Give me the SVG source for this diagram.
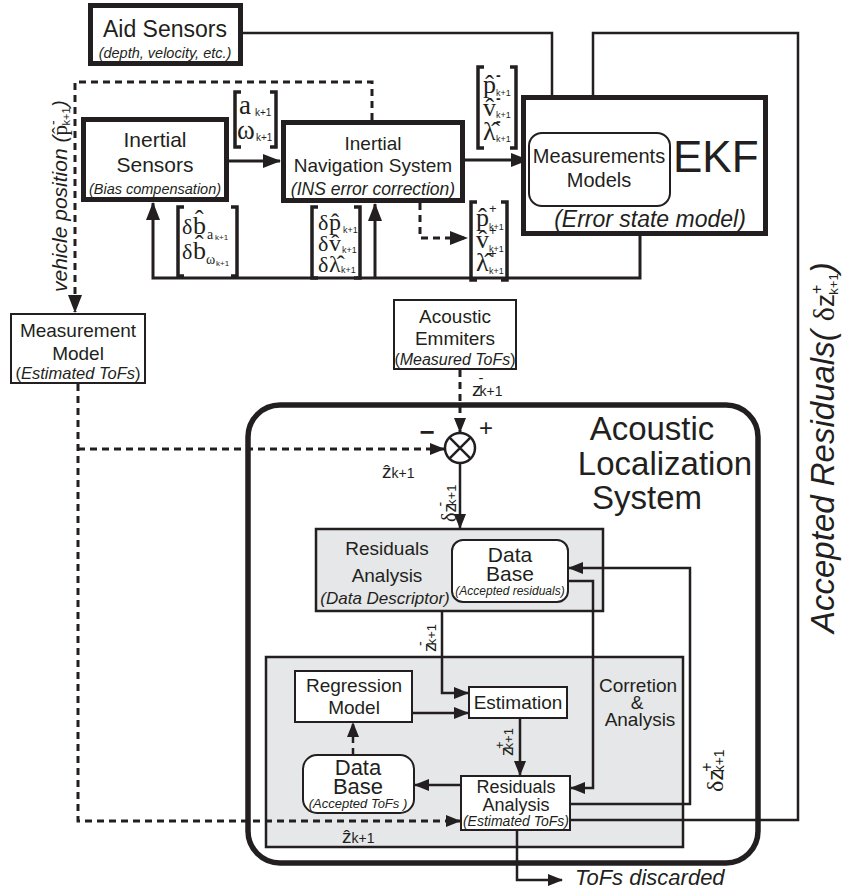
<svg xmlns="http://www.w3.org/2000/svg" width="843" height="895" viewBox="0 0 843 895">
<style>
text{fill:#231f20}
.s{font-family:"Liberation Sans",Arial,sans-serif}
.m{font-family:"Liberation Serif","Times New Roman",serif}
.i{font-style:italic}
.c{text-anchor:middle}
.thick{fill:#fff;stroke:#231f20;stroke-width:5}
.thin{fill:#fff;stroke:#231f20;stroke-width:2}
.gray{fill:#e6e7e8;stroke:#231f20;stroke-width:2.5}
.con{fill:none;stroke:#231f20;stroke-width:2.5}
.con3{fill:none;stroke:#231f20;stroke-width:3}
.dash{stroke-dasharray:7 5}
.br{fill:none;stroke:#231f20;stroke-width:3.5}
</style>
<defs>
<marker id="ah" markerUnits="userSpaceOnUse" markerWidth="18" markerHeight="14" refX="17" refY="7" orient="auto"><path d="M0,0 L18,7 L0,14 z" fill="#231f20"/></marker>
<marker id="as" markerUnits="userSpaceOnUse" markerWidth="15" markerHeight="12" refX="14" refY="6" orient="auto"><path d="M0,0 L15,6 L0,12 z" fill="#231f20"/></marker>
</defs>

<g id="acoustic-localization-system">
<rect x="248" y="405" width="510" height="458" rx="32" fill="none" stroke="#231f20" stroke-width="5.5"/>
<text class="s c" x="652" y="440" font-size="33">Acoustic</text>
<text class="s c" x="665" y="475" font-size="33">Localization</text>
<text class="s c" x="647" y="509" font-size="33">System</text>
</g>

<g id="residuals-analysis-descriptor">
<rect class="gray" x="316" y="529" width="287" height="82"/>
<text class="s c" x="387" y="555" font-size="19">Residuals</text>
<text class="s c" x="387" y="582" font-size="19">Analysis</text>
<text class="s c i" x="385" y="604" font-size="17">(Data Descriptor)</text>
</g>

<g id="correction-analysis">
<rect class="gray" x="266" y="657" width="417" height="190"/>
<text class="s c" x="638" y="692" font-size="19">Corretion</text>
<text class="s c" x="637" y="709" font-size="19">&amp;</text>
<text class="s c" x="640" y="726" font-size="19">Analysis</text>
</g>

<g id="connectors">
<path class="con" d="M243,33 H552 V131" stroke-width="2" marker-end="url(#ah)"/>
<path class="con" d="M570,820 H798 V33 H593 V131" stroke-width="2" marker-end="url(#ah)"/>
<path class="con3" d="M229,161 H280" marker-end="url(#ah)"/>
<path class="con3" d="M465,160 H528" marker-end="url(#ah)"/>
<path class="con3 dash" d="M372,120 V82 H75 V312" marker-end="url(#ah)"/>
<path class="con3 dash" d="M420,203 V238 H467" marker-end="url(#ah)"/>
<path class="con3" d="M640,236 V278 H153 V203" marker-end="url(#ah)"/>
<path class="con3" d="M375,278 V204" marker-end="url(#ah)"/>
<path class="con3 dash" d="M78,384 V821 H460" marker-end="url(#as)"/>
<path class="con3 dash" d="M78,449 H444" marker-end="url(#as)"/>
<path class="con3 dash" d="M460,370 V432" marker-end="url(#as)"/>
<path class="con" d="M460,463 V528" marker-end="url(#as)"/>
<path class="con" d="M442,611 V693 H468" marker-end="url(#as)"/>
<path class="con" d="M568,581 H593 V788 H571" marker-end="url(#as)"/>
<path class="con" d="M570,804 H690 V568 H569" marker-end="url(#as)"/>
<path class="con" d="M412,713 H468" marker-end="url(#as)"/>
<path class="con" d="M520,718 V775" marker-end="url(#as)"/>
<path class="con" d="M461,785 H415" marker-end="url(#as)"/>
<path class="con dash" d="M353,755 V723" marker-end="url(#as)"/>
<path class="con" d="M517,830 V880 H562" marker-end="url(#as)"/>
</g>

<g id="aid-sensors">
<rect class="thick" x="90.5" y="5.5" width="150" height="58"/>
<text class="s c" x="165" y="37" font-size="23">Aid Sensors</text>
<text class="s c i" x="165" y="58" font-size="14.5">(depth, velocity, etc.)</text>
</g>

<g id="inertial-sensors">
<rect class="thick" x="83.5" y="119.5" width="143" height="80"/>
<text class="s c" x="155" y="147" font-size="21">Inertial</text>
<text class="s c" x="155" y="172" font-size="21">Sensors</text>
<text class="s c i" x="155" y="194" font-size="14.5">(Bias compensation)</text>
</g>

<g id="inertial-navigation-system">
<rect class="thick" x="283.5" y="122.5" width="179" height="78"/>
<text class="s c" x="373" y="150" font-size="19">Inertial</text>
<text class="s c" x="373" y="172" font-size="19">Navigation System</text>
<text class="s c i" x="373" y="195" font-size="17.5">(INS error correction)</text>
</g>

<g id="ekf">
<rect class="thick" x="523.5" y="97.5" width="242" height="136"/>
<rect class="thin" x="529" y="133" width="141" height="73" rx="13"/>
<text class="s c" x="599" y="163" font-size="20">Measurements</text>
<text class="s c" x="599" y="187" font-size="20">Models</text>
<text class="s" x="673" y="172" font-size="44">EKF</text>
<text class="s c i" x="650" y="227" font-size="23">(Error state model)</text>
</g>

<g id="measurement-model">
<rect class="thin" x="11" y="314" width="134" height="69"/>
<text class="s c" x="78" y="337" font-size="19">Measurement</text>
<text class="s c" x="78" y="360" font-size="19">Model</text>
<text class="s c" x="78" y="379" font-size="16.5">(<tspan class="i">Estimated ToFs</tspan>)</text>
</g>

<g id="acoustic-emitters">
<rect class="thin" x="394" y="300" width="122" height="69"/>
<text class="s c" x="455" y="323" font-size="19">Acoustic</text>
<text class="s c" x="455" y="345" font-size="19">Emmiters</text>
<text class="s c" x="455" y="365" font-size="16">(<tspan class="i">Measured ToFs</tspan>)</text>
</g>

<g id="sum-junction">
<circle cx="460" cy="448" r="15" fill="#fff" stroke="#231f20" stroke-width="2.5"/>
<path d="M449.4,437.4 L470.6,458.6 M470.6,437.4 L449.4,458.6" stroke="#231f20" stroke-width="2.5"/>
<text class="s c" x="486" y="436" font-size="24">+</text>
<text class="s c" x="427" y="441" font-size="26" font-weight="bold">−</text>
</g>

<g id="data-base-residuals">
<rect class="thin" x="452" y="540" width="116" height="62" rx="11"/>
<text class="s c" x="510" y="562" font-size="21">Data</text>
<text class="s c" x="510" y="581" font-size="21">Base</text>
<text class="s c i" x="510" y="595" font-size="12">(Accepted residuals)</text>
</g>

<g id="regression-model">
<rect class="thin" x="295" y="671" width="117" height="51" stroke-width="1.5"/>
<text class="s c" x="354" y="692" font-size="19">Regression</text>
<text class="s c" x="354" y="714" font-size="19">Model</text>
</g>

<g id="estimation">
<rect class="thin" x="469" y="687" width="98" height="31" stroke-width="1.5"/>
<text class="s c" x="518" y="709" font-size="19">Estimation</text>
</g>

<g id="residuals-analysis">
<rect class="thin" x="461" y="776" width="109" height="54" stroke-width="1.5"/>
<text class="s c" x="516" y="793" font-size="18">Residuals</text>
<text class="s c" x="516" y="811" font-size="18">Analysis</text>
<text class="s c i" x="516" y="826" font-size="14">(Estimated ToFs)</text>
</g>

<g id="data-base-tofs">
<rect class="thin" x="303" y="755" width="111" height="58" rx="14" stroke-width="1.5"/>
<text class="s c" x="358" y="775" font-size="22">Data</text>
<text class="s c" x="358" y="794" font-size="22">Base</text>
<text class="s c i" x="358" y="808" font-size="13">(Accepted ToFs )</text>
</g>

<g id="labels">
<text class="s i" x="575" y="885" font-size="22">ToFs  discarded</text>
<text class="s i" transform="translate(834,633) rotate(-90)" font-size="33">Accepted Residuals( <tspan class="m" font-style="normal" font-size="30">δ</tspan><tspan font-style="normal" font-size="26">z</tspan><tspan font-style="normal" font-size="16" dy="-12">+</tspan><tspan font-style="normal" font-size="13" dx="-10" dy="16">k+1</tspan><tspan dy="-4">)</tspan></text>
<text class="s i" transform="translate(67,292) rotate(-90)" font-size="21">vehicle position (<tspan class="m" font-style="normal">p̂</tspan><tspan font-style="normal" font-size="14" dy="-9">-</tspan><tspan font-style="normal" font-size="11" dx="-5" dy="12">k+1</tspan><tspan dy="-3">)</tspan></text>

<text class="s" x="472" y="396" font-size="19">z<tspan font-size="15" dx="-3" dy="-13">-</tspan><tspan font-size="14" dx="-4" dy="13">k+1</tspan></text>
<text class="s" x="382" y="478" font-size="19">ẑ<tspan font-size="14">k+1</tspan></text>
<text class="s" transform="translate(456,522) rotate(-90)" font-size="18"><tspan class="m" font-size="20">δ</tspan>z<tspan font-size="14" dx="-3" dy="-11">-</tspan><tspan font-size="13" dx="-4" dy="11">k+1</tspan></text>
<text class="s" transform="translate(436,652) rotate(-90)" font-size="18">z<tspan font-size="14" dx="-3" dy="-11">-</tspan><tspan font-size="13" dx="-4" dy="11">k+1</tspan></text>
<text class="s" transform="translate(513,756) rotate(-90)" font-size="18">z<tspan font-size="13" dx="-2" dy="-9">+</tspan><tspan font-size="13" dx="-8" dy="9">k+1</tspan></text>
<text class="s" transform="translate(723,792) rotate(-90)" font-size="22"><tspan class="m" font-size="24">δ</tspan>z<tspan font-size="16" dx="-2" dy="-11">+</tspan><tspan font-size="14" dx="-10" dy="12">k+1</tspan></text>
<text class="s" x="342" y="843" font-size="19">ẑ<tspan font-size="14">k+1</tspan></text>
</g>

<g id="matrix-a-omega">
<path class="br" d="M241,92 H235 V147 H241 M270,92 H276 V147 H270"/>
<text class="m" x="239" y="114" font-size="27">a</text>
<text class="s" x="255" y="116" font-size="10">k+1</text>
<text class="m" x="237" y="139" font-size="27">ω</text>
<text class="s" x="256" y="141" font-size="10">k+1</text>
</g>

<g id="matrix-bias">
<path class="br" d="M184,207 H178 V276 H184 M231,207 H237 V276 H231"/>
<text class="m" x="182" y="234" font-size="22">δ</text>
<text class="m" x="193" y="234" font-size="26">b̂</text>
<text class="m" x="207" y="239" font-size="14">a</text>
<text class="s" x="215" y="240" font-size="8">k+1</text>
<text class="m" x="182" y="259" font-size="22">δ</text>
<text class="m" x="193" y="259" font-size="26">b̂</text>
<text class="m" x="206" y="264" font-size="14">ω</text>
<text class="s" x="216" y="266" font-size="8">k+1</text>
</g>

<g id="matrix-corrections">
<path class="br" d="M318,207 H312 V278 H318 M354,207 H360 V278 H354"/>
<text class="m" x="318" y="230" font-size="22">δ</text>
<text class="m" x="329" y="230" font-size="24">p̂</text>
<text class="s" x="343" y="233" font-size="9">k+1</text>
<text class="m" x="318" y="251" font-size="22">δ</text>
<text class="m" x="329" y="251" font-size="24">v̂</text>
<text class="s" x="342" y="253" font-size="9">k+1</text>
<text class="m" x="318" y="272" font-size="22">δ</text>
<text class="m" x="329" y="272" font-size="24">λ̂</text>
<text class="s" x="341" y="273" font-size="9">k+1</text>
</g>

<g id="matrix-prior">
<path class="br" d="M484,67 H478 V148 H484 M510,67 H516 V148 H510"/>
<text class="m" x="483" y="93" font-size="26">p̂</text>
<text class="s" x="496" y="80" font-size="14" font-weight="bold">-</text>
<text class="s" x="496" y="96" font-size="9">k+1</text>
<text class="m" x="483" y="116" font-size="26">v̂</text>
<text class="s" x="496" y="103" font-size="14" font-weight="bold">-</text>
<text class="s" x="496" y="118" font-size="9">k+1</text>
<text class="m" x="483" y="140" font-size="26">λ̂</text>
<text class="s" x="496" y="126" font-size="14" font-weight="bold">-</text>
<text class="s" x="496" y="142" font-size="9">k+1</text>
</g>

<g id="matrix-posterior">
<path class="br" d="M477,202 H471 V280 H477 M501,202 H507 V280 H501"/>
<text class="m" x="476" y="226" font-size="26">p̂</text>
<text class="s" x="489" y="213" font-size="13">+</text>
<text class="s" x="489" y="230" font-size="9">k+1</text>
<text class="m" x="476" y="248" font-size="26">v̂</text>
<text class="s" x="489" y="235" font-size="13">+</text>
<text class="s" x="489" y="252" font-size="9">k+1</text>
<text class="m" x="476" y="271" font-size="26">λ̂</text>
<text class="s" x="489" y="258" font-size="13">+</text>
<text class="s" x="489" y="274" font-size="9">k+1</text>
</g>
</svg>
